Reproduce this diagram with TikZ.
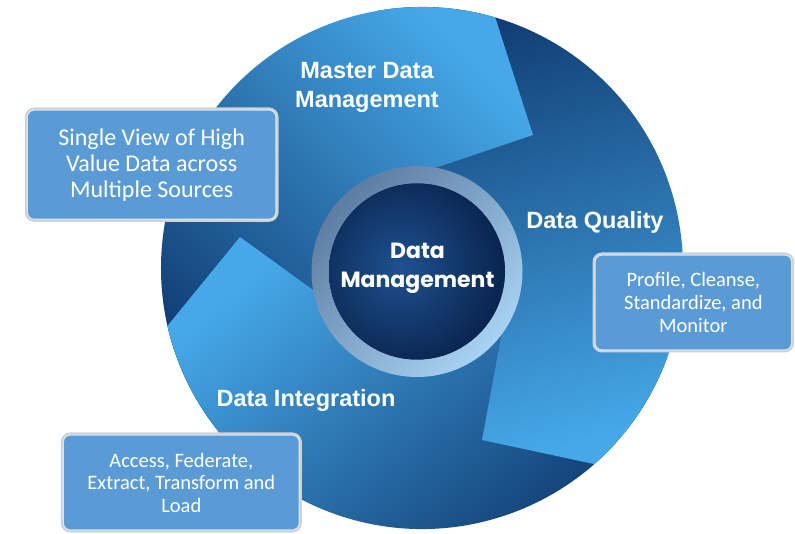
\documentclass[tikz,border=0pt]{standalone}
\usepackage{fontspec}
\setmainfont{Carlito}
\newfontfamily\labelfont{Liberation Sans}
\newfontfamily\centerfont{Poppins}
\usetikzlibrary{calc}
\definecolor{navy}{HTML}{0F3A70}
\definecolor{lightblue}{HTML}{46A8E8}
\definecolor{boxblue}{HTML}{5B9BD5}
\definecolor{boxline}{HTML}{D4E6F6}
\definecolor{ringdark}{HTML}{5D7DA2}
\definecolor{ringlight}{HTML}{A8D2F2}
\definecolor{discdark}{HTML}{0A2550}
\definecolor{disclight}{HTML}{1F5290}
\tikzset{
  arrowone/.style={left color=navy, right color=lightblue, shading angle=135},
  arrowtwo/.style={left color=navy, right color=lightblue, shading angle=15},
  arrowthree/.style={left color=navy, right color=lightblue, shading angle=-140},
  infobox/.style={rounded corners=7pt, fill=boxblue, draw=boxline, line width=1.2pt,
    preaction={draw=black!18, line width=5pt}, text=white, align=center, inner sep=0pt},
  lbl/.style={text=white, font=\labelfont\bfseries\fontsize{23.5}{29.3}\selectfont, inner sep=0pt},
  ctrtext/.style={text=white, font=\centerfont\bfseries\fontsize{22}{28.7}\selectfont, inner sep=0pt, align=center}
}
\begin{document}
\begin{tikzpicture}[x=1pt,y=1pt]
\useasboundingbox (0,0) rectangle (795,533);
\fill[white] (0,0) rectangle (795,533);
\coordinate (O) at (422,265);
\coordinate (RC) at (417,261.5);
% arrows
\begin{scope}[shift={(422,265)}]
  \path[arrowthree] (0,0) -- (-20:261pt) arc[start angle=-20, end angle=-167.2, radius=261pt] -- (-182,31) -- (-87.1,-37.9) -- cycle;
  \path[arrowtwo] (0,0) -- (100:261pt) arc[start angle=100, end angle=-48.7, radius=261pt] -- (60,-172) -- (81.6,-55.6) -- cycle;
  \path[arrowone] (0,0) -- (220:261pt) arc[start angle=220, end angle=73.7, radius=261pt] -- (111,133) -- (-3,94.6) -- cycle;
  \begin{scope}
    \clip (0,0) -- (160:400pt) -- (195:450pt) -- (232:400pt) -- cycle;
    \path[arrowthree] (0,0) -- (-20:261pt) arc[start angle=-20, end angle=-167.2, radius=261pt] -- (-182,31) -- (-87.1,-37.9) -- cycle;
  \end{scope}
\end{scope}
% ring and disc
\shade[even odd rule, left color=ringdark, right color=ringlight, shading angle=45]
  (RC) circle[radius=105.5pt] (RC) circle[radius=88pt];
\fill[discdark] (RC) circle[radius=88pt];
\begin{scope}
  \clip (RC) circle[radius=88pt];
  \shade[inner color=disclight, outer color=discdark] ($(RC)+(-16,4)$) circle[radius=100pt];
\end{scope}
% labels
\node[lbl, align=center] (mdm) at (367,445.3) {Master Data\\Management};
\node[lbl, anchor=base] (dq) at (595,304.7) {Data Quality};
\node[lbl, anchor=base] (di) at (306,126.3) {Data Integration};
\node[ctrtext] (dm) at (417.5,264.8) {Data\\Management};
% boxes
\node[infobox, minimum width=248.7pt, minimum height=109.3pt, font=\fontsize{24}{26}\selectfont]
  (b1) at (151.65,368.35) {Single View of High\\Value Data across\\Multiple Sources};
\node[infobox, minimum width=196.7pt, minimum height=95pt, font=\fontsize{20.5}{23}\selectfont]
  (b2) at (693.35,230.5) {Profile, Cleanse,\\Standardize, and\\Monitor};
\node[infobox, minimum width=236pt, minimum height=95pt, font=\fontsize{20.5}{22.5}\selectfont]
  (b3) at (181.3,50.5) {Access, Federate,\\Extract, Transform and\\Load};
\end{tikzpicture}
\end{document}
